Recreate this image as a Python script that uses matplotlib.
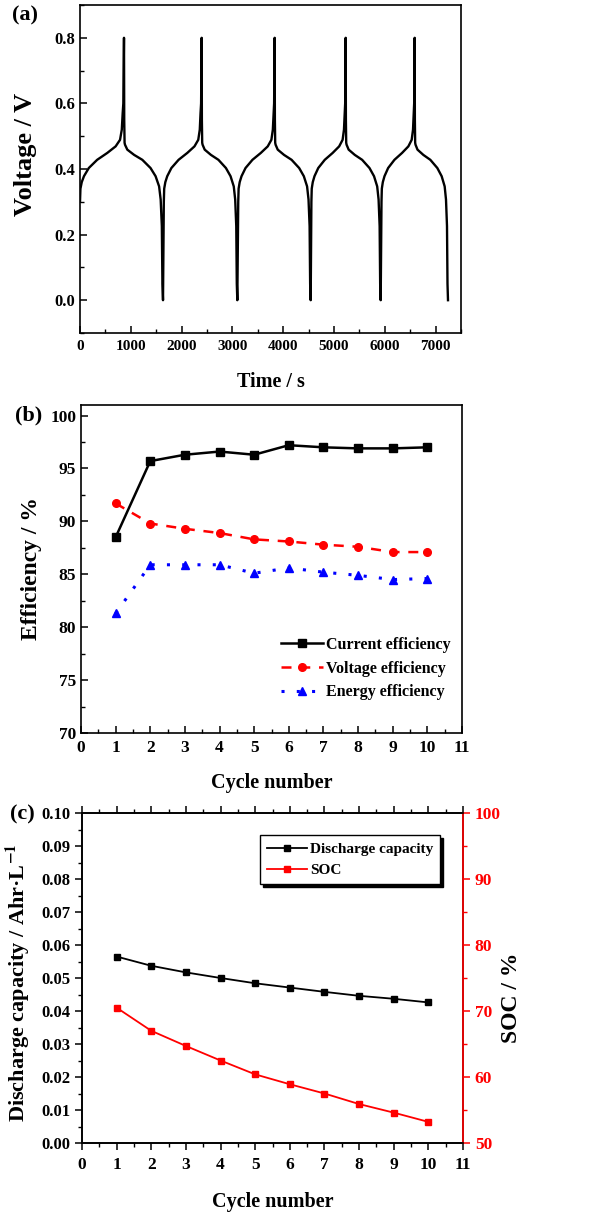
import matplotlib
matplotlib.use('Agg')
import matplotlib.pyplot as plt
from matplotlib.ticker import MultipleLocator, FormatStrFormatter

plt.rcParams['font.family'] = ['Liberation Serif', 'DejaVu Serif']
plt.rcParams['font.weight'] = 'bold'
plt.rcParams['axes.labelweight'] = 'bold'
plt.rcParams['mathtext.fontset'] = 'stix'
plt.rcParams['axes.linewidth'] = 1.2

# (a) one charge / discharge profile (fraction of step, volts)
charge_frac = [0.0, 0.01, 0.04, 0.09, 0.2, 0.39, 0.62, 0.81, 0.91, 0.95, 0.97, 0.985, 0.995, 1.0]
charge_volt = [0.30, 0.34, 0.36, 0.378, 0.403, 0.428, 0.449, 0.469, 0.489, 0.52, 0.57, 0.60, 0.75, 0.80]
discharge_frac = [0.006, 0.015, 0.026, 0.085, 0.26, 0.47, 0.68, 0.81, 0.90, 0.94, 0.97, 0.985, 1.0]
discharge_volt = [0.55, 0.48, 0.474, 0.459, 0.443, 0.428, 0.403, 0.378, 0.347, 0.307, 0.226, 0.05, 0.0]
cycle_start = [0, 1650, 3115, 4555, 5935]
cycle_peak = [866, 2395, 3832, 5230, 6588]
cycle_end = [1634, 3097, 4541, 5919, 7244]

# (b) efficiencies
cycles = [1, 2, 3, 4, 5, 6, 7, 8, 9, 10]
current_eff = [88.5, 95.7, 96.3, 96.6, 96.3, 97.2, 97.0, 96.9, 96.9, 97.0]
voltage_eff = [91.7, 89.8, 89.3, 88.9, 88.3, 88.1, 87.8, 87.6, 87.1, 87.1]
energy_eff = [81.3, 85.9, 85.9, 85.9, 85.1, 85.6, 85.2, 84.9, 84.5, 84.6]

# (c) capacity and SOC
capacity = [0.0565, 0.0537, 0.0517, 0.0500, 0.0484, 0.0471, 0.0458, 0.0446, 0.0437, 0.0426]
soc = [70.5, 67.0, 64.7, 62.5, 60.4, 58.9, 57.5, 55.9, 54.6, 53.2]

W, H = 616, 1213
fig = plt.figure(figsize=(W / 100, H / 100), dpi=100)


def box(left, top, right, bottom):
    return [left / W, 1 - bottom / H, (right - left) / W, (bottom - top) / H]


def ticks(ax, direction, xsize, ysize):
    ax.tick_params(direction=direction, which='both')
    ax.tick_params(axis='x', labelsize=xsize, pad=5)
    ax.tick_params(axis='y', labelsize=ysize)
    ax.tick_params(which='major', length=5, width=1.1)
    ax.tick_params(which='minor', length=3, width=1.0)


XLAB = 14.5
YLAB = 17

# ---- (a)
ax_a = fig.add_axes(box(80, 5, 461, 333))
t, v = [], []
for s, p, e in zip(cycle_start, cycle_peak, cycle_end):
    t += [s + f * (p - s) for f in charge_frac]
    v += charge_volt
    t += [p + f * (e - p) for f in discharge_frac]
    v += discharge_volt
ax_a.plot(t, v, color='black', lw=1.7)
ax_a.set_xlim(0, 7500)
ax_a.set_ylim(-0.1, 0.9)
ax_a.xaxis.set_major_locator(MultipleLocator(1000))
ax_a.xaxis.set_minor_locator(MultipleLocator(500))
ax_a.yaxis.set_minor_locator(MultipleLocator(0.1))
ax_a.set_yticks([0.0, 0.2, 0.4, 0.6, 0.8])
ax_a.set_xlabel('Time / s', fontsize=XLAB, labelpad=14)
ax_a.set_ylabel('Voltage / V', fontsize=19)
ax_a.yaxis.set_label_coords(-0.113, 0.545)
ticks(ax_a, 'in', 11, 12)
fig.text(12 / W, 1 - 15 / H, '(a)', fontsize=16, fontweight='bold', va='center')

# ---- (b)
ax_b = fig.add_axes(box(81, 405, 462, 733))
ax_b.plot(cycles, current_eff, color='black', lw=1.8, marker='s', ms=5.5,
          label='Current efficiency')
ax_b.plot(cycles, voltage_eff, color='red', lw=1.8, ls=(0, (4, 3.5)), marker='o', ms=5.5,
          label='Voltage efficiency')
ax_b.plot(cycles, energy_eff, color='blue', lw=2.2, ls=(0, (1, 4)), marker='^', ms=6,
          label='Energy efficiency')
ax_b.set_xlim(0, 11)
ax_b.set_ylim(70, 101)
ax_b.xaxis.set_major_locator(MultipleLocator(1))
ax_b.xaxis.set_minor_locator(MultipleLocator(0.5))
ax_b.yaxis.set_major_locator(MultipleLocator(5))
ax_b.yaxis.set_minor_locator(MultipleLocator(2.5))
ax_b.set_xlabel('Cycle number', fontsize=XLAB, labelpad=12)
ax_b.set_ylabel('Efficiency / %', fontsize=YLAB, labelpad=6)
ticks(ax_b, 'in', 12.5, 12.5)
ax_b.legend(loc='lower right', bbox_to_anchor=(1.0, 0.065), frameon=False, fontsize=11.5,
            handlelength=2.6, handletextpad=0.2, labelspacing=0.5, borderaxespad=0.3)
fig.text(15 / W, 1 - 415 / H, '(b)', fontsize=16, fontweight='bold', va='center')

# ---- (c)
ax_c = fig.add_axes(box(82, 813, 463, 1143))
ax_c2 = ax_c.twinx()
l1, = ax_c.plot(cycles, capacity, color='black', lw=1.3, marker='s', ms=4.5,
                label='Discharge capacity')
l2, = ax_c2.plot(cycles, soc, color='red', lw=1.3, marker='s', ms=4.5, label='SOC')
ax_c.set_xlim(0, 11)
ax_c.set_ylim(0, 0.1)
ax_c2.set_ylim(50, 100)
ax_c.xaxis.set_major_locator(MultipleLocator(1))
ax_c.xaxis.set_minor_locator(MultipleLocator(0.5))
ax_c.yaxis.set_major_locator(MultipleLocator(0.01))
ax_c.yaxis.set_minor_locator(MultipleLocator(0.005))
ax_c.yaxis.set_major_formatter(FormatStrFormatter('%.2f'))
ax_c2.yaxis.set_major_locator(MultipleLocator(10))
ax_c2.yaxis.set_minor_locator(MultipleLocator(5))
ticks(ax_c, 'out', 12.5, 12)
ax_c.tick_params(axis='x', which='both', top=True, labeltop=False)
ticks(ax_c2, 'out', 12.5, 12.5)
ax_c2.tick_params(axis='y', which='both', colors='red')
ax_c2.spines['right'].set_color('red')
ax_c.set_xlabel('Cycle number', fontsize=XLAB, labelpad=14)
ax_c.set_ylabel('Discharge capacity / Ahr\u00b7L$^{\\mathbf{-1}}$', fontsize=16)
ax_c.yaxis.set_label_coords(-0.131, 0.485)
ax_c2.set_ylabel('SOC / %', fontsize=YLAB)
ax_c2.yaxis.set_label_coords(1.1, 0.44)
leg = ax_c2.legend([l1, l2], ['Discharge capacity', 'SOC'], loc='upper right',
                   bbox_to_anchor=(0.96, 0.955), fontsize=11, fancybox=False, framealpha=1,
                   edgecolor='black', handlelength=2.6, handletextpad=0.2,
                   borderpad=0.45, labelspacing=0.5,
                   shadow={'color': 'black', 'alpha': 1})
leg.get_frame().set_linewidth(1.0)
fig.text(10 / W, 1 - 814 / H, '(c)', fontsize=16, fontweight='bold', va='center')

fig.savefig('out.png', dpi=100)
